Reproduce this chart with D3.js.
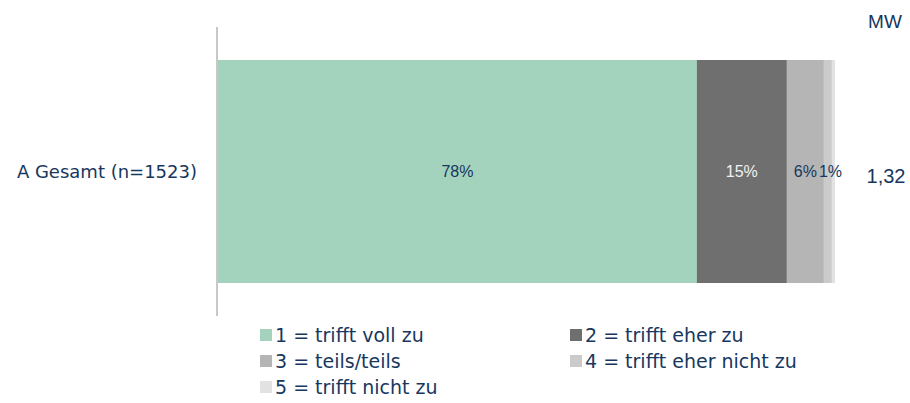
<!DOCTYPE html>
<html>
<head>
<meta charset="utf-8">
<script src="https://cdn.jsdelivr.net/npm/d3@7"></script>
<style>
  body { margin: 0; background: #fff; }
  svg { display: block; }
</style>
</head>
<body>
<script>
// data
var categories = ["A Gesamt (n=1523)"];
var answers = ["1 = trifft voll zu", "2 = trifft eher zu", "3 = teils/teils", "4 = trifft eher nicht zu", "5 = trifft nicht zu"];
var values = [77.6, 14.6, 6.0, 1.3, 0.5];
var labels = ["78%", "15%", "6%", "1%", ""];
var means = ["1,32"];

var colors = ["#a3d3bd", "#6f6f6f", "#b5b5b5", "#cbcbcb", "#e2e2e2"];
var labelColors = ["#17375e", "#f2f2f2", "#17375e", "#17375e", "#17375e"];
var navy = "#17375e";

var width = 910, height = 403;

var svg = d3.select("body").append("svg")
    .attr("width", width)
    .attr("height", height);

var x = d3.scaleLinear().domain([0, 100]).range([218, 835]);
var y = d3.scaleBand().domain(categories).range([60, 283]).padding(0);
var yMid = y(categories[0]) + y.bandwidth() / 2;

// stack the segments
var stacked = [];
var acc = 0;
values.forEach(function(v, i) {
    stacked.push({ i: i, x0: acc, x1: acc + v, label: labels[i] });
    acc += v;
});

svg.append("g")
    .selectAll("rect")
    .data(stacked)
    .enter()
    .append("rect")
    .attr("x", function(d) { return x(d.x0); })
    .attr("y", y(categories[0]))
    .attr("width", function(d) { return x(d.x1) - x(d.x0); })
    .attr("height", y.bandwidth())
    .attr("fill", function(d) { return colors[d.i]; });

// axis line on the left
svg.append("line")
    .attr("x1", 217).attr("x2", 217)
    .attr("y1", 27).attr("y2", 316)
    .attr("stroke", "#c8c8c8")
    .attr("stroke-width", 2);

// segment labels (small ones pushed right so they don't collide)
var lastRight = -Infinity;
svg.append("g")
    .selectAll("text")
    .data(stacked.filter(function(d) { return d.label; }))
    .enter()
    .append("text")
    .attr("y", yMid)
    .attr("dy", "0.35em")
    .attr("text-anchor", "middle")
    .style("font-family", "Liberation Sans, Arial, sans-serif")
    .style("font-size", "16px")
    .attr("fill", function(d) { return labelColors[d.i]; })
    .text(function(d) { return d.label; })
    .attr("x", function(d) {
        var w = this.getComputedTextLength();
        var cx = (x(d.x0) + x(d.x1)) / 2;
        if (cx - w / 2 < lastRight + 2) cx = lastRight + 2 + w / 2;
        lastRight = cx + w / 2;
        return cx;
    });

// category label
svg.append("text")
    .attr("x", 197)
    .attr("y", yMid)
    .attr("dy", "0.35em")
    .attr("text-anchor", "end")
    .style("font-family", "DejaVu Sans, sans-serif")
    .style("font-size", "18px")
    .attr("fill", navy)
    .text(categories[0]);

// mean column
svg.append("text")
    .attr("x", 885)
    .attr("y", 21)
    .attr("dy", "0.35em")
    .attr("text-anchor", "middle")
    .style("font-family", "Liberation Sans, Arial, sans-serif")
    .style("font-size", "19px")
    .attr("fill", navy)
    .text("MW");

svg.append("text")
    .attr("x", 886)
    .attr("y", yMid + 4)
    .attr("dy", "0.35em")
    .attr("text-anchor", "middle")
    .style("font-family", "Liberation Sans, Arial, sans-serif")
    .style("font-size", "20px")
    .attr("fill", navy)
    .text(means[0]);

// legend
var legend = svg.append("g")
    .selectAll("g")
    .data(answers)
    .enter()
    .append("g")
    .attr("transform", function(d, i) {
        return "translate(" + (i % 2 === 0 ? 260 : 570) + "," + (335 + Math.floor(i / 2) * 26) + ")";
    });

legend.append("rect")
    .attr("x", 0)
    .attr("y", -6)
    .attr("width", 12)
    .attr("height", 12)
    .attr("fill", function(d, i) { return colors[i]; });

legend.append("text")
    .attr("x", 15)
    .attr("y", 0)
    .attr("dy", "0.35em")
    .style("font-family", "DejaVu Sans, sans-serif")
    .style("font-size", "19px")
    .attr("fill", navy)
    .text(function(d) { return d; });
</script>
</body>
</html>
